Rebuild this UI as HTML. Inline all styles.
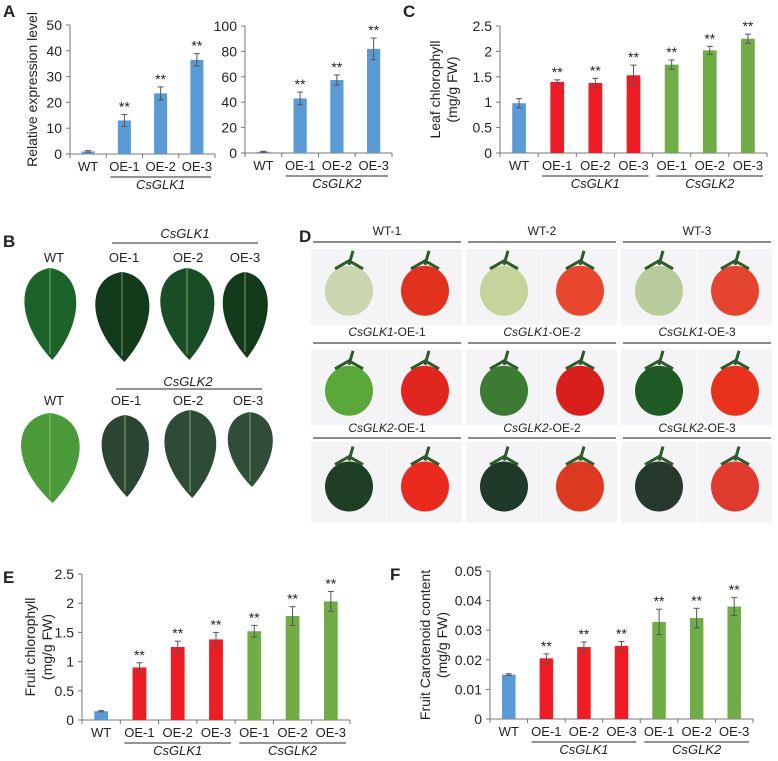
<!DOCTYPE html>
<html><head><meta charset="utf-8">
<style>
html,body{margin:0;padding:0;background:#fff;}
body{width:778px;height:756px;overflow:hidden;font-family:"Liberation Sans",sans-serif;}
svg text{font-family:"Liberation Sans",sans-serif;fill:#222;}
</style></head>
<body>
<svg id="fig" width="778" height="756" viewBox="0 0 778 756" xmlns="http://www.w3.org/2000/svg">
<g id="photos"></g>
<g id="charts"></g>
</svg>
<script>
// ---- Chart data ----
const catsA = ["WT","OE-1","OE-2","OE-3"];
const valsA1 = [1, 13, 23.5, 36.5];
const errA1 = [0.3, 2.3, 2.5, 2.4];
const ticksA1 = [0,10,20,30,40,50];
const valsA2 = [1, 43, 57.5, 82];
const errA2 = [0.4, 5, 4, 8.5];
const ticksA2 = [0,20,40,60,80,100];
const cats7 = ["WT","OE-1","OE-2","OE-3","OE-1","OE-2","OE-3"];
const valsC = [0.98, 1.4, 1.38, 1.53, 1.74, 2.02, 2.25];
const errC = [0.09, 0.04, 0.09, 0.2, 0.09, 0.08, 0.09];
const ticksC = [0,0.5,1,1.5,2,2.5];
const valsE = [0.15, 0.9, 1.25, 1.38, 1.52, 1.78, 2.03];
const errE = [0.01, 0.08, 0.1, 0.12, 0.1, 0.16, 0.17];
const ticksE = [0,0.5,1,1.5,2,2.5];
const valsF = [0.015, 0.0205, 0.0243, 0.0247, 0.0328, 0.0341, 0.038];
const errF = [0.0003, 0.0015, 0.0017, 0.0015, 0.0043, 0.0033, 0.003];
const ticksF = [0,0.01,0.02,0.03,0.04,0.05];
const colorsA = ["#5b9bd5","#5b9bd5","#5b9bd5","#5b9bd5"];
const colors7 = ["#5b9bd5","#ee1c25","#ee1c25","#ee1c25","#70ad47","#70ad47","#70ad47"];
const starsA = [false,true,true,true];
const stars7 = [false,true,true,true,true,true,true];

const NS="http://www.w3.org/2000/svg";
function mk(parent,tag,attrs,text){const e=document.createElementNS(NS,tag);for(const k in attrs)e.setAttribute(k,attrs[k]);if(text!==undefined)e.textContent=text;parent.appendChild(e);return e;}
const charts=document.getElementById('charts');

function chart(o){
  const g=mk(charts,'g',{});
  
  
  const max=o.ticks[o.ticks.length-1];
  const yS=v=>o.y0-(v/max)*(o.y0-o.yTop);
  const band=(o.x1-o.x0)/o.cats.length;
  const xS=i=>o.x0+(i+0.5)*band;
  const ya=mk(g,'line',{x1:o.x0,y1:o.yTop,x2:o.x0,y2:o.y0,stroke:'#777','stroke-width':1});
  
  
  o.ticks.forEach(t=>{
    mk(g,'line',{x1:o.x0-4,y1:yS(t),x2:o.x0,y2:yS(t),stroke:'#777'});
    const tl=mk(g,'text',{x:o.x0-8,y:yS(t)+5,'text-anchor':'end','font-size':14},String(t));
    
    
  });
  const xa=mk(g,'line',{x1:o.x0,y1:o.y0,x2:o.x1,y2:o.y0,stroke:'#777'});
  
  
  for(let i=0;i<=o.cats.length;i++){mk(g,'line',{x1:o.x0+i*band,y1:o.y0,x2:o.x0+i*band,y2:o.y0+4,stroke:'#777'});}
  const bw=band*0.36;
  o.vals.forEach((v,i)=>{
    const cx=xS(i);
    const b=mk(g,'rect',{x:cx-bw/2,y:yS(v),width:bw,height:o.y0-yS(v),fill:o.colors[i]});
    
    
    const e=o.err[i];
    mk(g,'line',{x1:cx,y1:yS(v+e),x2:cx,y2:yS(v-e),stroke:'#555'});
    mk(g,'line',{x1:cx-3,y1:yS(v+e),x2:cx+3,y2:yS(v+e),stroke:'#555'});
    mk(g,'line',{x1:cx-3,y1:yS(v-e),x2:cx+3,y2:yS(v-e),stroke:'#555'});
    if(o.stars[i]){const s=mk(g,'text',{x:cx,y:yS(v+e)-3,'text-anchor':'middle','font-size':14},'**');
      
      }
    const xl=mk(g,'text',{x:cx,y:o.y0+17,'text-anchor':'middle','font-size':13},o.cats[i]);
    
    
  });
  o.groups.forEach(gr=>{
    const a=o.x0+gr[0]*band+4,b=o.x0+gr[1]*band-4;
    mk(g,'line',{x1:a,y1:o.y0+23,x2:b,y2:o.y0+23,stroke:'#555','stroke-width':1.3});
    const gl=mk(g,'text',{x:(a+b)/2,y:o.y0+35,'text-anchor':'middle','font-size':13,'font-style':'italic'},gr[2]);
    
    
  });
  if(o.title){
    const cx=o.titleX, cy=(o.y0+o.yTop)/2;
    o.title.forEach((t,k)=>{
      const tt=mk(g,'text',{x:cx+k*17,y:cy,'text-anchor':'middle','font-size':14,transform:`rotate(-90 ${cx+k*17} ${cy})`},t);
      
      
    });
  }
}
chart({name:'chart-a-csglk1',x0:70,x1:215,y0:154,yTop:25,ticks:ticksA1,vals:valsA1,err:errA1,cats:catsA,colors:colorsA,stars:starsA,groups:[[1,4,'CsGLK1']],title:['Relative expression level'],titleX:37});
chart({name:'chart-a-csglk2',x0:245,x1:392,y0:153,yTop:26,ticks:ticksA2,vals:valsA2,err:errA2,cats:catsA,colors:colorsA,stars:starsA,groups:[[1,4,'CsGLK2']]});
chart({name:'chart-c-leaf-chlorophyll',x0:500,x1:767,y0:153,yTop:26,ticks:ticksC,vals:valsC,err:errC,cats:cats7,colors:colors7,stars:stars7,groups:[[1,4,'CsGLK1'],[4,7,'CsGLK2']],title:['Leaf chlorophyll','(mg/g FW)'],titleX:440});
chart({name:'chart-e-fruit-chlorophyll',x0:82,x1:350,y0:720,yTop:574,ticks:ticksE,vals:valsE,err:errE,cats:cats7,colors:colors7,stars:stars7,groups:[[1,4,'CsGLK1'],[4,7,'CsGLK2']],title:['Fruit chlorophyll','(mg/g FW)'],titleX:35});
chart({name:'chart-f-carotenoid',x0:490,x1:753,y0:719,yTop:571,ticks:ticksF,vals:valsF,err:errF,cats:cats7,colors:colors7,stars:stars7,groups:[[1,4,'CsGLK1'],[4,7,'CsGLK2']],title:['Fruit Carotenoid content','(mg/g FW)'],titleX:430});

[['A',3,17],['C',403,17],['B',3,247],['D',299,242],['E',3,583],['F',390,580]].forEach(p=>{
  const t=mk(charts,'text',{x:p[1],y:p[2],'font-size':17,'font-weight':'bold'},p[0]);
  
  
});

// ---- Panel B: leaves ----
const ph=document.getElementById('photos');
function leaf(cx,top,bot,w,col){
  const h=bot-top;
  const d=`M${cx} ${top} C${cx+w*0.7} ${top+h*0.05},${cx+w*0.8} ${top+h*0.55},${cx+w*0.05} ${bot} C${cx-w*0.8} ${top+h*0.55},${cx-w*0.7} ${top+h*0.05},${cx} ${top}Z`;
  const p=mk(ph,'path',{d:d,fill:col});
  
  
  mk(ph,'line',{x1:cx,y1:top,x2:cx,y2:bot-6,stroke:'rgba(200,220,160,0.5)','stroke-width':1.2});
}
leaf(50,268,360,46,'#1c6329');leaf(122,272,362,48,'#123a1b');leaf(187,268,360,48,'#184d25');leaf(245,272,358,40,'#143a1c');
leaf(50,413,503,52,'#4a9a3a');leaf(125,415,497,42,'#2a4632');leaf(190,410,498,46,'#2d4c37');leaf(250,412,487,40,'#2f4d39');
function txt(x,y,s,sz,it,name){const t=mk(ph,'text',{x:x,y:y,'text-anchor':'middle','font-size':sz,'font-style':it?'italic':'normal'},s);
  
  return t;}
txt(185,238,'CsGLK1',13,true,'group-label');
mk(ph,'line',{x1:112,y1:243,x2:258,y2:243,stroke:'#555','stroke-width':1.3});
[['WT',54],['OE-1',124],['OE-2',188],['OE-3',245]].forEach(a=>txt(a[1],262,a[0],13,false,'leaf-label'));
txt(188,386,'CsGLK2',13,true,'group-label');
mk(ph,'line',{x1:116,y1:389,x2:262,y2:389,stroke:'#555','stroke-width':1.3});
[['WT',54],['OE-1',126],['OE-2',188],['OE-3',248]].forEach(a=>txt(a[1],405,a[0],13,false,'leaf-label'));

// ---- Panel D: tomatoes ----
const rows=[{y:249,h:76,ty:235,ly:242,titles:['WT-1','WT-2','WT-3'],c:[['#c9d6b0','#e2321f'],['#c6d49c','#e8472e'],['#b9cc9c','#e5442f']]},
 {y:349,h:76,ty:336,ly:343,titles:['CsGLK1|-OE-1','CsGLK1|-OE-2','CsGLK1|-OE-3'],c:[['#5aa83a','#e0261e'],['#3d7a34','#d91f1b'],['#1f5a26','#e8321c']]},
 {y:442,h:81,ty:432,ly:438,titles:['CsGLK2|-OE-1','CsGLK2|-OE-2','CsGLK2|-OE-3'],c:[['#1e3f26','#ea2a1c'],['#1f3a28','#dd3a22'],['#26392c','#df3a2e']]}];
const gx=[311,466,621];
rows.forEach(r=>{
  gx.forEach((x,gi)=>{
    mk(ph,'line',{x1:x+2,y1:r.ly,x2:x+150,y2:r.ly,stroke:'#444','stroke-width':1.3});
    const parts=r.titles[gi].split('|');
    const t=mk(ph,'text',{x:x+76,y:r.ty,'text-anchor':'middle','font-size':12},'');
    
    
    if(parts.length>1){mk(t,'tspan',{'font-style':'italic'},parts[0]);mk(t,'tspan',{},parts[1]);}else{t.textContent=parts[0];}
    for(let k=0;k<2;k++){
      const px=x+k*76;
      const bg=mk(ph,'rect',{x:px,y:r.y,width:75,height:r.h,fill:'#f4f4f6'});
      
      
      const cx=px+38,cy=r.y+r.h*0.55;
      mk(ph,'ellipse',{cx:cx,cy:cy,rx:24,ry:25,fill:r.c[gi][k]});
      mk(ph,'path',{d:`M${cx-14} ${cy-22} L${cx} ${cy-30} L${cx+14} ${cy-22} M${cx} ${cy-26} L${cx+4} ${cy-40}`,stroke:'#2f5a2a','stroke-width':3,fill:'none'});
    }
  });
});
</script>
</body></html>
